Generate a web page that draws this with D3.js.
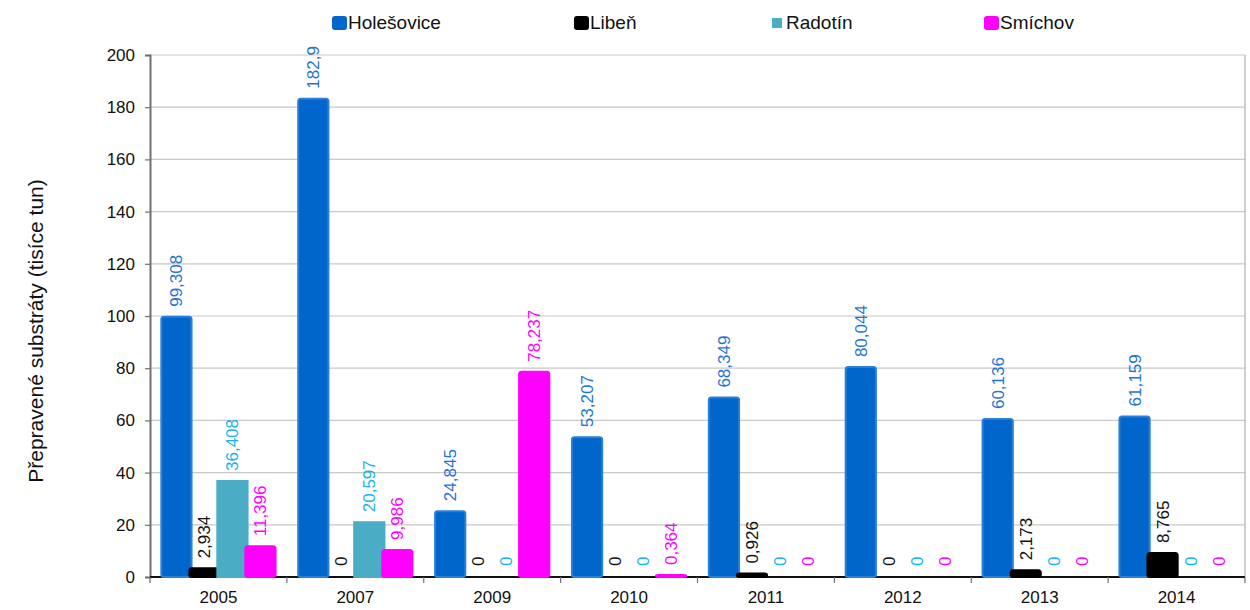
<!DOCTYPE html>
<html><head><meta charset="utf-8">
<script src="https://cdn.jsdelivr.net/npm/d3@7"></script>
<style>
html,body{margin:0;padding:0;background:#fff;}
svg{display:block;font-family:"Liberation Sans",Arial,sans-serif;}
</style></head>
<body><svg id="c" width="1250" height="610"></svg>
<script>
const years = ["2005","2007","2009","2010","2011","2012","2013","2014"];
const seriesNames = ["Holešovice","Libeň","Radotín","Smíchov"];
const holesovice = [99.308, 182.9, 24.845, 53.207, 68.349, 80.044, 60.136, 61.159];
const liben = [2.934, 0, 0, 0, 0.926, 0, 2.173, 8.765];
const radotin = [36.408, 20.597, 0, 0, 0, 0, 0, 0];
const smichov = [11.396, 9.986, 78.237, 0.364, 0, 0, 0, 0];
const yTicks = [0,20,40,60,80,100,120,140,160,180,200];
const yTitle = "Přepravené substráty (tisíce tun)";

const seriesValues = [holesovice, liben, radotin, smichov];
const barColors = ["#0066CC","#000000","#4BACC6","#FF00FF"];
const labelColors = ["#1F74D4","#111111","#17B3EE","#FF00FF"];
const rounded = [true, true, false, true];

const svg = d3.select("#c");
const m = {l:150, r:1245, t:55, b:577};
const x = d3.scaleBand().domain(years).range([m.l, m.r]).paddingInner(0).paddingOuter(0);
const y = d3.scaleLinear().domain([0,200]).range([m.b, m.t]);
const bw = x.bandwidth();
const xs = d3.scaleBand().domain(seriesNames).range([bw/2 - 56, bw/2 + 56]).padding(0);
const barW = xs.bandwidth()*1.08;

// gridlines
svg.append("g").selectAll("line").data(yTicks.filter(d=>d>0)).join("line")
  .attr("x1", m.l).attr("x2", m.r).attr("y1", d=>y(d)).attr("y2", d=>y(d))
  .attr("stroke","#c8c8c8").attr("stroke-width",1.2);
// right border
svg.append("line").attr("x1",m.r).attr("x2",m.r).attr("y1",m.t).attr("y2",m.b)
  .attr("stroke","#b0b0b0").attr("stroke-width",1.2);

// y axis
const yAxis = d3.axisLeft(y).tickValues(yTicks).tickSize(5).tickPadding(10).tickFormat(d3.format("d"));
const gy = svg.append("g").attr("transform",`translate(${m.l},0)`).call(yAxis);
gy.select(".domain").attr("stroke","#707070").attr("stroke-width",2);
gy.selectAll(".tick line").attr("stroke","#707070").attr("stroke-width",1.2);
gy.selectAll("text").attr("font-size",17).attr("fill","#111").attr("font-family","Liberation Sans, Arial");

// x axis
const xAxisLine = svg.append("g").attr("transform",`translate(0,${m.b})`);
xAxisLine.append("line").attr("x1",m.l).attr("x2",m.r).attr("stroke","#111").attr("stroke-width",2);
const xTickPos = years.map(d => x(d)).concat([m.r]);
xAxisLine.selectAll(".xt").data(xTickPos).join("line").attr("class","xt")
  .attr("x1",d=>d).attr("x2",d=>d).attr("y1",0).attr("y2",6)
  .attr("stroke","#707070").attr("stroke-width",1.2);
xAxisLine.selectAll(".xl").data(years).join("text").attr("class","xl")
  .attr("x", d => x(d) + bw/2).attr("y", 26)
  .attr("text-anchor","middle").attr("font-size",17).attr("fill","#111")
  .text(d=>d);

// bars
seriesNames.forEach((s, si) => {
  const vals = seriesValues[si];
  const g = svg.append("g");
  g.selectAll("rect").data(vals.map((v,i)=>({v, yr: years[i]}))).join("rect")
    .filter(d => d.v > 0)
    .attr("x", d => x(d.yr) + xs(s) + xs.bandwidth()/2 - barW/2)
    .attr("width", barW)
    .attr("y", d => y(d.v) - 1)
    .attr("height", d => y(0) - y(d.v) + 1)
    .attr("rx", rounded[si] ? 2.5 : 0)
    .attr("fill", barColors[si])
    .attr("stroke", si === 0 ? "#2a7fd6" : barColors[si]).attr("stroke-width", 2);
});

// value labels
const fmt = v => String(v).replace(".", ",");
seriesNames.forEach((s, si) => {
  const vals = seriesValues[si];
  svg.append("g").selectAll("text").data(vals.map((v,i)=>({v, yr: years[i]}))).join("text")
    .attr("transform", d => `translate(${x(d.yr) + xs(s) + xs.bandwidth()/2 + 6},${y(d.v) - 11}) rotate(-90)`)
    .attr("text-anchor","start")
    .attr("font-size",17).attr("fill",labelColors[si])
    .text(d => fmt(d.v));
});

// y title
svg.append("text").attr("transform",`translate(43,331) rotate(-90)`)
  .attr("text-anchor","middle").attr("font-size",21).attr("fill","#111").text(yTitle);

// legend
const legX = [332, 574, 770, 984];
const leg = svg.append("g");
seriesNames.forEach((s, si) => {
  const gx = legX[si];
  if (rounded[si]) {
    leg.append("rect").attr("x",gx).attr("y",16).attr("width",15).attr("height",14).attr("rx",3).attr("fill",barColors[si]);
  } else {
    leg.append("rect").attr("x",gx+2).attr("y",18).attr("width",10).attr("height",10).attr("fill",barColors[si]);
  }
  leg.append("text").attr("x",gx+16).attr("y",29).attr("font-size",19).attr("fill","#111").text(s);
});
</script></body></html>
